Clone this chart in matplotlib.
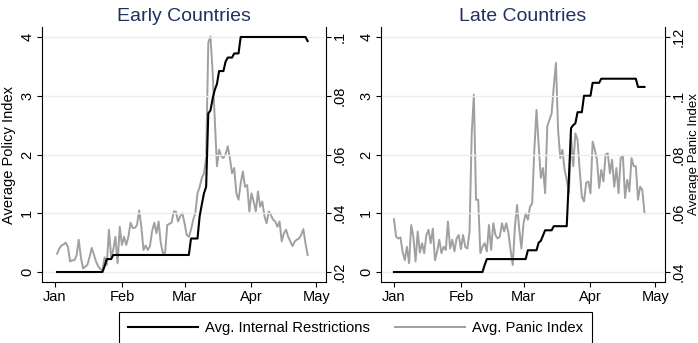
import numpy as np
import pandas as pd
import matplotlib
matplotlib.use('Agg')
import matplotlib.pyplot as plt
import matplotlib.dates as mdates
from matplotlib.lines import Line2D

plt.rcParams['font.family'] = ['Liberation Sans', 'DejaVu Sans']

#_______________________________________________________________________________
# DATA (daily values)

early_start = '2020-01-02'
late_start = '2020-01-01'

# Avg. internal restrictions (left axis, 0-4)
early_policy = ([0.0] * 22 + [0.10] + [0.22] * 3 + [0.29] * 36 + [0.57] * 4
                + [0.95, 1.15, 1.34, 1.45, 2.70, 2.75, 2.95, 3.10, 3.20]
                + [3.42] * 3 + [3.58] + [3.65] * 3 + [3.72] * 3 + [4.0] * 31 + [3.93])

late_policy = ([0.0] * 42 + [0.12] + [0.22] * 19 + [0.37] * 5
               + [0.50, 0.53, 0.62] + [0.71] * 4 + [0.78] * 7
               + [1.60, 2.45, 2.50, 2.53] + [2.72] * 3 + [3.0] * 4 + [3.22] * 4
               + [3.29] * 17 + [3.15] * 4)

# Avg. panic index (right axis)
early_panic = [.0262, .0280, .0290, .0294, .0300, .0286, .0236, .0240, .0240, .0256,
               .0310, .0250, .0212, .0218, .0224, .0250, .0282, .0260, .0236, .0220,
               .0210, .0206, .0250, .0224, .0344, .0252, .0276, .0320, .0230, .0354,
               .0292, .0320, .0292, .0320, .0368, .0350, .0350, .0360, .0410, .0354,
               .0275, .0290, .0275, .0288, .0340, .0368, .0332, .0372, .0298, .0264,
               .0266, .0360, .0364, .0368, .0406, .0406, .0372, .0390, .0400, .0366,
               .0326, .0320, .0344, .0378, .0400, .0468, .0490, .0520, .0536, .0588,
               .0980, .1002, .0880, .0720, .0560, .0616, .0594, .0588, .0600, .0628,
               .0588, .0536, .0554, .0468, .0446, .0502, .0542, .0490, .0496, .0406,
               .0468, .0440, .0406, .0474, .0422, .0440, .0390, .0366, .0406, .0394,
               .0378, .0372, .0354, .0372, .0304, .0332, .0344, .0320, .0304, .0288,
               .0304, .0310, .0314, .0326, .0346, .0298, .0258]

late_panic = [.0580, .0520, .0514, .0518, .0470, .0440, .0486, .0430, .0560, .0520,
              .0436, .0538, .0466, .0498, .0464, .0526, .0544, .0498, .0548, .0440,
              .0470, .0510, .0464, .0486, .0475, .0572, .0480, .0510, .0470, .0514,
              .0526, .0478, .0526, .0486, .0480, .0538, .0872, .1004, .0646, .0646,
              .0464, .0486, .0498, .0470, .0560, .0475, .0566, .0526, .0514, .0520,
              .0566, .0538, .0566, .0532, .0475, .0424, .0554, .0628, .0548, .0480,
              .0566, .0600, .0578, .0622, .0634, .0816, .0952, .0832, .0720, .0754,
              .0668, .0896, .0918, .0940, .1032, .1112, .0884, .0788, .0816, .0748,
              .0714, .0668, .0862, .0760, .0872, .0850, .0748, .0656, .0640, .0704,
              .0708, .0668, .0844, .0816, .0782, .0686, .0748, .0708, .0800, .0804,
              .0736, .0782, .0690, .0754, .0668, .0788, .0796, .0652, .0714, .0674,
              .0788, .0760, .0760, .0646, .0690, .0680, .0600]

month_ticks = ['2020-01-01', '2020-02-01', '2020-03-01', '2020-04-01', '2020-05-01']
month_labels = ['Jan', 'Feb', 'Mar', 'Apr', 'May']
policy_ticks = [0, 1, 2, 3, 4]
early_panic_ticks = [.02, .04, .06, .08, .1]
early_panic_labels = ['.02', '.04', '.06', '.08', '.1']
late_panic_ticks = [.04, .06, .08, .1, .12]
late_panic_labels = ['.04', '.06', '.08', '.1', '.12']

#_______________________________________________________________________________
# PLOT

navy = '#1f3160'
gray = '#a0a0a0'
gridc = '#e6eef0'
fs = 10.5

fig = plt.figure(figsize=(6.98, 3.43), dpi=100)
W, H = 698, 343
ax_w, ax_h, ax_b = 284 / W, 255 / H, 61 / H
xlo = mdates.date2num(pd.Timestamp('2019-12-26'))
xhi = mdates.date2num(pd.Timestamp('2020-05-05 12:00'))

panels = [
    (42, 'Early Countries', early_start, early_policy, early_panic, early_panic_ticks, early_panic_labels, 0.02),
    (381, 'Late Countries', late_start, late_policy, late_panic, late_panic_ticks, late_panic_labels, 0.04),
]

for i, (left, title, start, pol, pan, pticks, plabels, p0) in enumerate(panels):
    dates = pd.date_range(start, periods=len(pol), freq='D')
    ax = fig.add_axes([left / W, ax_b, ax_w, ax_h])
    ax2 = ax.twinx()
    ax.set_zorder(ax2.get_zorder() + 1)
    ax.patch.set_visible(False)

    ax2.plot(dates, pan, color=gray, lw=1.4)
    ax.plot(dates, pol, color='black', lw=1.5)

    ax.set_xlim(xlo, xhi)
    ax.set_ylim(-0.17, 4.17)
    ax2.set_ylim(p0 - 0.0034, p0 + 0.0834)

    ax.set_xticks(pd.to_datetime(month_ticks))
    ax.set_xticklabels(month_labels)
    ax.set_yticks(policy_ticks)
    ax.set_yticklabels([str(t) for t in policy_ticks])
    ax2.set_yticks(pticks)
    ax2.set_yticklabels(plabels)

    for a in (ax, ax2):
        a.tick_params(direction='out', length=3.6, width=0.8, labelsize=fs, pad=2)
        a.spines['top'].set_visible(False)
        for s in a.spines.values():
            s.set_linewidth(0.8)
    ax2.tick_params(pad=1.5)
    ax.spines['right'].set_visible(False)
    ax2.spines['left'].set_visible(False)
    ax2.spines['bottom'].set_visible(False)
    for lab in ax.get_yticklabels() + ax2.get_yticklabels():
        lab.set_rotation(90)
        lab.set_va('center')

    ax.grid(axis='y', color=gridc, lw=1.0)
    ax.set_axisbelow(True)
    ax.set_title(title, fontsize=14, color=navy, pad=4)

    if i == 0:
        ax.set_ylabel('Average Policy Index', fontsize=fs, labelpad=3)
    else:
        ax2.set_ylabel('Average Panic Index', fontsize=9.5)
        ax2.yaxis.set_label_coords((687.5 - left) / 284, 0.5)

handles = [Line2D([], [], color='black', lw=1.5), Line2D([], [], color=gray, lw=1.4)]
leg = fig.legend(handles, ['Avg. Internal Restrictions', 'Avg. Panic Index'],
                 loc='center', bbox_to_anchor=(355.5 / W, 1 - 328 / H), ncol=2,
                 fontsize=10.6, handlelength=4.75, handletextpad=0.5, columnspacing=1.7,
                 frameon=True, fancybox=False, edgecolor='black', framealpha=1,
                 borderpad=0.6)
leg.get_frame().set_linewidth(0.8)

fig.savefig('out.png', dpi=100)
